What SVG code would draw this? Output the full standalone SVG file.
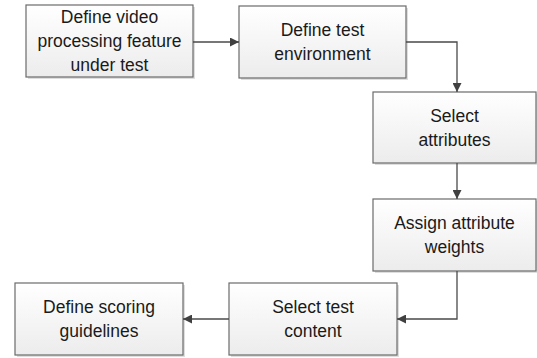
<svg xmlns="http://www.w3.org/2000/svg" width="537" height="358" viewBox="0 0 537 358">
<defs>
<linearGradient id="g" x1="0" y1="0" x2="0" y2="1">
<stop offset="0" stop-color="#ffffff"/>
<stop offset="1" stop-color="#ececec"/>
</linearGradient>
<marker id="ah" viewBox="0 0 10 10" refX="10" refY="5" markerWidth="9" markerHeight="9" markerUnits="userSpaceOnUse" orient="auto">
<path d="M0,0 L10,5 L0,10 Z" fill="#404040"/>
</marker>
<style>
.box{fill:url(#g);stroke:#6b6b6b;stroke-width:1.2}
.sh{fill:#dedede}
.t{font-family:"Liberation Sans",Arial,sans-serif;font-size:17.5px;fill:#1a1a1a;text-anchor:middle}
.c{fill:none;stroke:#4a4a4a;stroke-width:1.3;marker-end:url(#ah)}
</style>
</defs>
<rect width="537" height="358" fill="#ffffff"/>
<g id="n1">
<rect class="sh" x="28" y="7" width="167" height="72"/>
<rect class="box" x="26" y="5" width="167" height="72"/>
<text class="t" x="109.5" y="23">Define video</text>
<text class="t" x="109.5" y="47">processing feature</text>
<text class="t" x="109.5" y="71">under test</text>
</g>
<g id="n2">
<rect class="sh" x="241" y="8" width="167" height="72"/>
<rect class="box" x="239" y="6" width="167" height="72"/>
<text class="t" x="322.5" y="36">Define test</text>
<text class="t" x="322.5" y="60">environment</text>
</g>
<g id="n3">
<rect class="sh" x="375" y="94" width="163" height="71"/>
<rect class="box" x="373" y="92" width="163" height="71"/>
<text class="t" x="454.5" y="122">Select</text>
<text class="t" x="454.5" y="146">attributes</text>
</g>
<g id="n4">
<rect class="sh" x="375" y="201" width="163" height="72"/>
<rect class="box" x="373" y="199" width="163" height="72"/>
<text class="t" x="454.5" y="229">Assign attribute</text>
<text class="t" x="454.5" y="253">weights</text>
</g>
<g id="n5">
<rect class="sh" x="231" y="285" width="168" height="72"/>
<rect class="box" x="229" y="283" width="168" height="72"/>
<text class="t" x="313" y="313">Select test</text>
<text class="t" x="313" y="337">content</text>
</g>
<g id="n6">
<rect class="sh" x="17" y="285" width="168" height="72"/>
<rect class="box" x="15" y="283" width="168" height="72"/>
<text class="t" x="99" y="313">Define scoring</text>
<text class="t" x="99" y="337">guidelines</text>
</g>
<g id="connectors">
<path class="c" d="M193,42 H239"/>
<path class="c" d="M406,42 H457 V92"/>
<path class="c" d="M457,163 V199"/>
<path class="c" d="M457,271 V319 H397"/>
<path class="c" d="M229,319 H183"/>
</g>
</svg>
